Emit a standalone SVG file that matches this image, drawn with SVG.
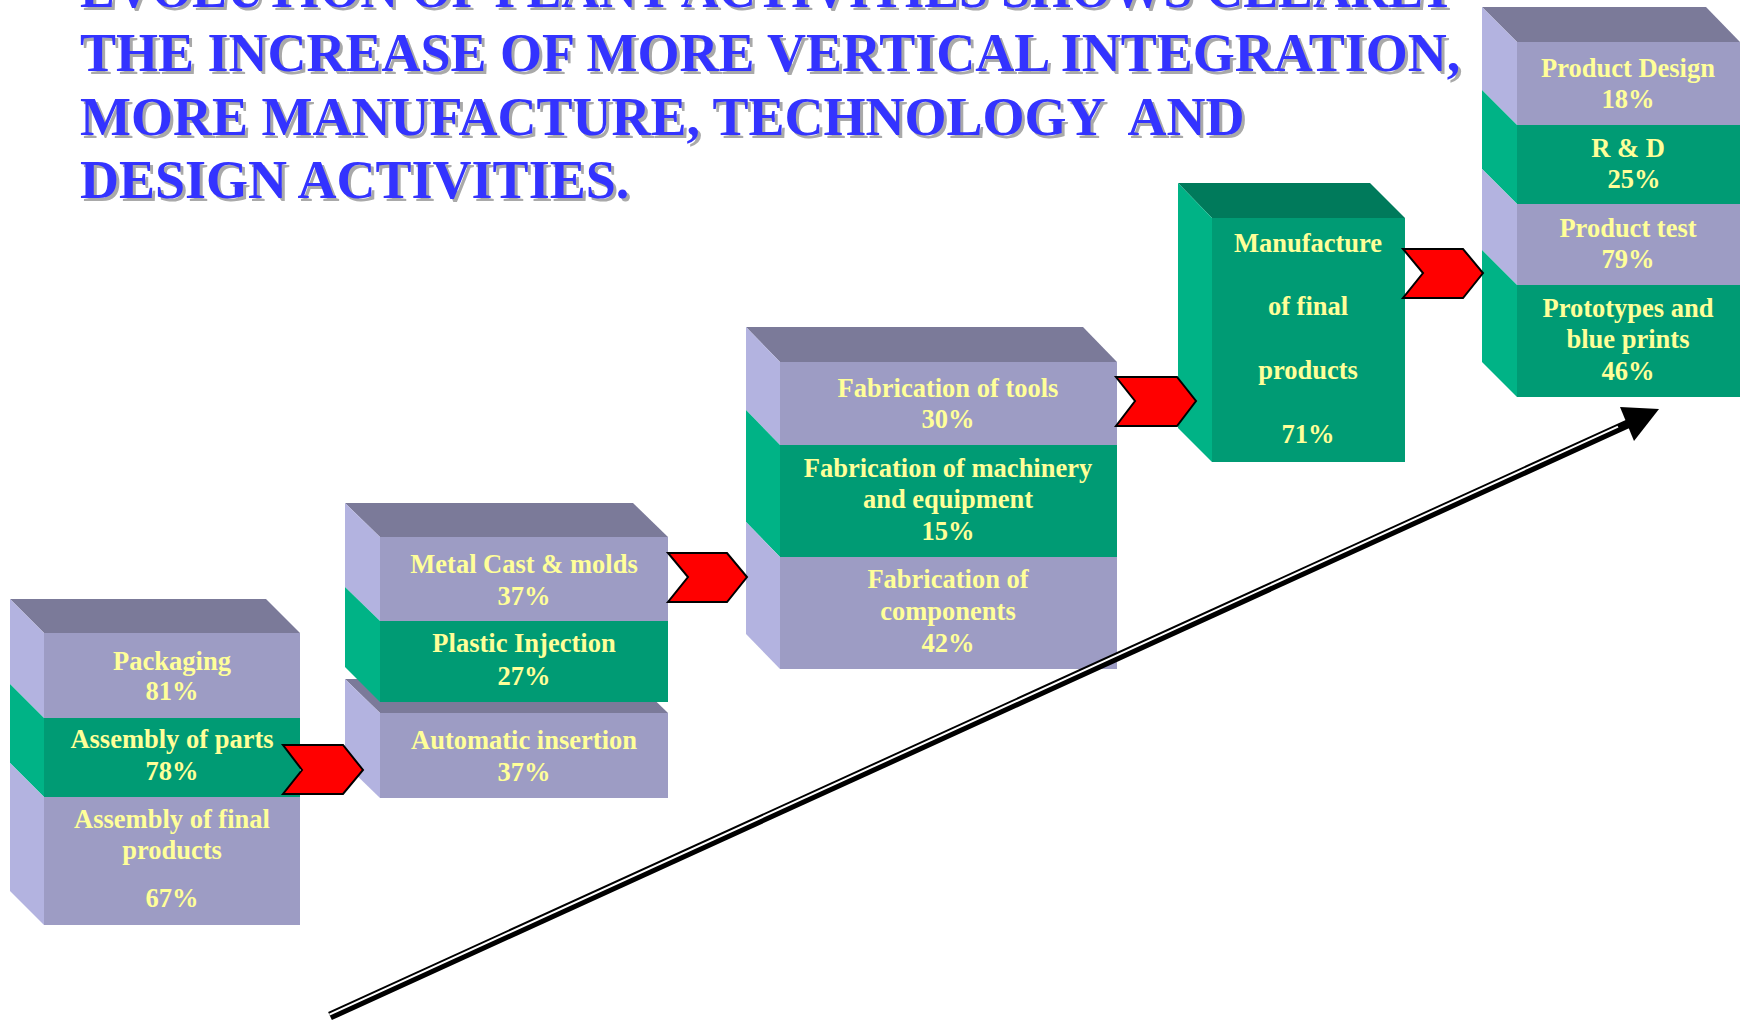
<svg xmlns="http://www.w3.org/2000/svg" xmlns:xlink="http://www.w3.org/1999/xlink" width="1744" height="1021" viewBox="0 0 1744 1021">
  <style>
    .fp { fill: #9D9CC4; }
    .sp { fill: #B3B3E0; }
    .tp { fill: #7B7A99; }
    .fg { fill: #009B74; }
    .sg { fill: #00B386; }
    .tg { fill: #007A5B; }
    .lbl { font-family: "Liberation Serif", "Times New Roman", serif; font-weight: bold; font-size: 26.5px; fill: #FFFF99; text-anchor: middle; }
    .title { font-family: "Liberation Serif", "Times New Roman", serif; font-weight: bold; font-size: 54px; white-space: pre; }
    .chev { fill: #FF0000; stroke: #000000; stroke-width: 2; stroke-linejoin: miter; }
  </style>
  <defs>
    <text id="title-l1" class="title" x="80" y="7" textLength="1376" lengthAdjust="spacingAndGlyphs">EVOLUTION OF PLANT ACTIVITIES SHOWS CLEARLY</text>
    <text id="title-l2" class="title" x="80" y="71">THE INCREASE OF MORE VERTICAL INTEGRATION,</text>
    <text id="title-l3" class="title" x="80" y="135" xml:space="preserve">MORE MANUFACTURE, TECHNOLOGY  AND</text>
    <text id="title-l4" class="title" x="80" y="198">DESIGN ACTIVITIES.</text>
  </defs>

  <rect width="1744" height="1021" fill="#FFFFFF"/>

  <!-- Heading with grey drop shadow -->
  <g id="heading">
    <g fill="#A9A9A9" transform="translate(3,3)">
      <use xlink:href="#title-l1"/>
      <use xlink:href="#title-l2"/>
      <use xlink:href="#title-l3"/>
      <use xlink:href="#title-l4"/>
    </g>
    <g fill="#3333FF">
      <use xlink:href="#title-l1"/>
      <use xlink:href="#title-l2"/>
      <use xlink:href="#title-l3"/>
      <use xlink:href="#title-l4"/>
    </g>
  </g>

  <!-- Stage 1: assembly -->
  <g id="stage-assembly">
    <polygon class="tp" points="10,599 266,599 300,633 44,633"/>
    <polygon class="sp" points="10,599 44,633 44,718 10,684"/>
    <polygon class="sg" points="10,684 44,718 44,797 10,763"/>
    <polygon class="sp" points="10,763 44,797 44,925 10,891"/>
    <rect class="fp" x="44" y="633" width="256" height="85"/>
    <rect class="fg" x="44" y="718" width="256" height="79"/>
    <rect class="fp" x="44" y="797" width="256" height="128"/>
    <text class="lbl" x="172" y="670">Packaging</text>
    <text class="lbl" x="172" y="700">81%</text>
    <text class="lbl" x="172" y="748">Assembly of parts</text>
    <text class="lbl" x="172" y="780">78%</text>
    <text class="lbl" x="172" y="828">Assembly of final</text>
    <text class="lbl" x="172" y="859">products</text>
    <text class="lbl" x="172" y="907">67%</text>
  </g>

  <!-- Stage 2: insertion (lower box, drawn first) -->
  <g id="stage-insertion">
    <polygon class="tp" points="345,679 633,679 668,713 380,713"/>
    <polygon class="sp" points="345,679 380,713 380,798 345,764"/>
    <rect class="fp" x="380" y="713" width="288" height="85"/>
    <text class="lbl" x="524" y="749">Automatic insertion</text>
    <text class="lbl" x="524" y="781">37%</text>
  </g>

  <!-- Stage 2: casting and injection -->
  <g id="stage-casting">
    <polygon class="tp" points="345,503 633,503 668,537 380,537"/>
    <polygon class="sp" points="345,503 380,537 380,621 345,587"/>
    <polygon class="sg" points="345,587 380,621 380,702 345,667"/>
    <rect class="fp" x="380" y="537" width="288" height="84"/>
    <rect class="fg" x="380" y="621" width="288" height="81"/>
    <text class="lbl" x="524" y="573">Metal Cast &amp; molds</text>
    <text class="lbl" x="524" y="605">37%</text>
    <text class="lbl" x="524" y="652">Plastic Injection</text>
    <text class="lbl" x="524" y="685">27%</text>
  </g>

  <!-- Stage 3: fabrication -->
  <g id="stage-fabrication">
    <polygon class="tp" points="746,327 1083,327 1117,362 780,362"/>
    <polygon class="sp" points="746,327 780,362 780,445 746,410"/>
    <polygon class="sg" points="746,410 780,445 780,557 746,522"/>
    <polygon class="sp" points="746,522 780,557 780,669 746,634"/>
    <rect class="fp" x="780" y="362" width="337" height="83"/>
    <rect class="fg" x="780" y="445" width="337" height="112"/>
    <rect class="fp" x="780" y="557" width="337" height="112"/>
    <text class="lbl" x="948" y="397">Fabrication of tools</text>
    <text class="lbl" x="948" y="428">30%</text>
    <text class="lbl" x="948" y="477">Fabrication of machinery</text>
    <text class="lbl" x="948" y="508">and equipment</text>
    <text class="lbl" x="948" y="540">15%</text>
    <text class="lbl" x="948" y="588">Fabrication of</text>
    <text class="lbl" x="948" y="620">components</text>
    <text class="lbl" x="948" y="652">42%</text>
  </g>

  <!-- Stage 4: manufacture -->
  <g id="stage-manufacture">
    <polygon class="tg" points="1178,183 1370,183 1405,218 1212,218"/>
    <polygon class="sg" points="1178,183 1212,218 1212,462 1178,428"/>
    <rect class="fg" x="1212" y="218" width="193" height="244"/>
    <text class="lbl" x="1308" y="252">Manufacture</text>
    <text class="lbl" x="1308" y="315">of final</text>
    <text class="lbl" x="1308" y="379">products</text>
    <text class="lbl" x="1308" y="443">71%</text>
  </g>

  <!-- Stage 5: design -->
  <g id="stage-design">
    <polygon class="tp" points="1482,7 1706,7 1740,42 1517,42"/>
    <polygon class="sp" points="1482,7 1517,42 1517,125 1482,90"/>
    <polygon class="sg" points="1482,90 1517,125 1517,204 1482,169"/>
    <polygon class="sp" points="1482,169 1517,204 1517,285 1482,250"/>
    <polygon class="sg" points="1482,250 1517,285 1517,397 1482,362"/>
    <rect class="fp" x="1517" y="42" width="223" height="83"/>
    <rect class="fg" x="1517" y="125" width="223" height="79"/>
    <rect class="fp" x="1517" y="204" width="223" height="81"/>
    <rect class="fg" x="1517" y="285" width="223" height="112"/>
    <text class="lbl" x="1628" y="77">Product Design</text>
    <text class="lbl" x="1628" y="108">18%</text>
    <text class="lbl" x="1628" y="157">R &amp; D</text>
    <text class="lbl" x="1634" y="188">25%</text>
    <text class="lbl" x="1628" y="237">Product test</text>
    <text class="lbl" x="1628" y="268">79%</text>
    <text class="lbl" x="1628" y="317">Prototypes and</text>
    <text class="lbl" x="1628" y="348">blue prints</text>
    <text class="lbl" x="1628" y="380">46%</text>
  </g>

  <!-- Chevron connectors between stages -->
  <g id="connectors">
    <polygon class="chev" points="283,745 343,745 363,770 343,794 283,794 302,770"/>
    <polygon class="chev" points="668,553 727,553 747,577 727,602 668,602 688,577"/>
    <polygon class="chev" points="1116,377 1177,377 1196,401 1177,426 1116,426 1135,401"/>
    <polygon class="chev" points="1403,249 1463,249 1483,273 1463,298 1403,298 1423,273"/>

    <!-- Rising trend arrow: black band with a thin white stripe -->
    <g id="trend-arrow">
      <line x1="330" y1="1016" x2="1632" y2="422" stroke="#000000" stroke-width="9"/>
      <line x1="329.4" y1="1014.6" x2="1618" y2="426.6" stroke="#FFFFFF" stroke-width="2"/>
      <polygon points="1659,409 1620,407 1634,441" fill="#000000"/>
    </g>
  </g>
</svg>
